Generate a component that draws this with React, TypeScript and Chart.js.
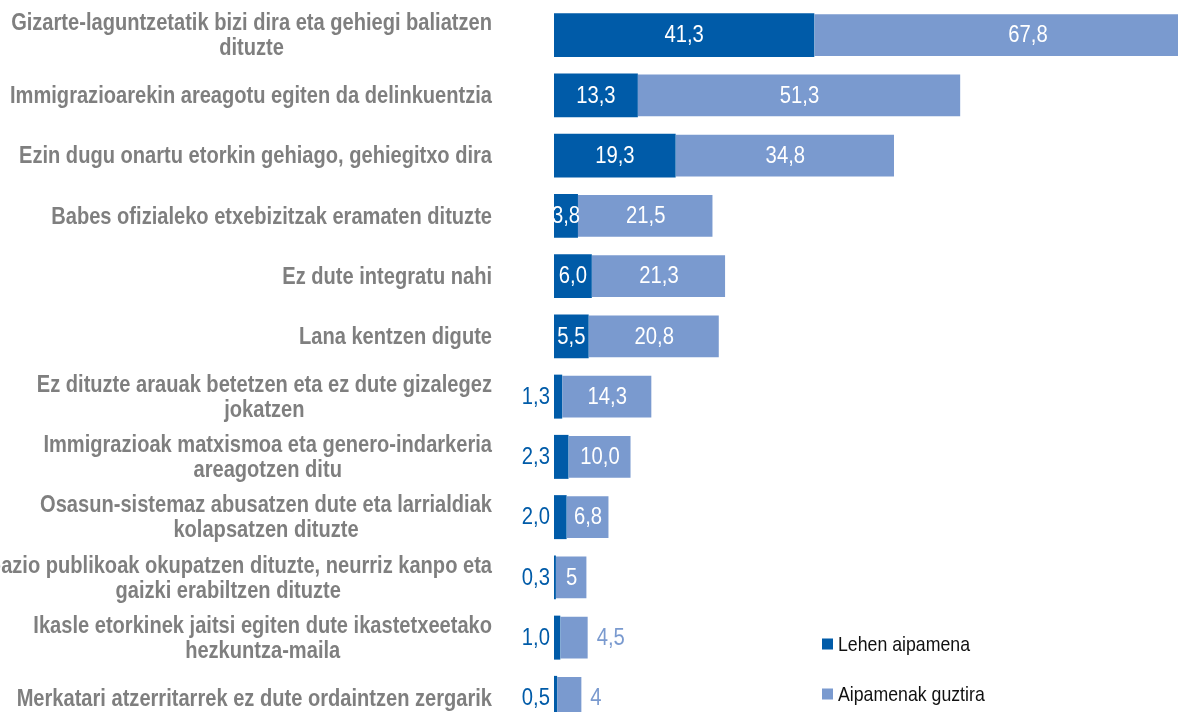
import React, { useEffect, useRef } from "react";
import { Chart, registerables } from "chart.js";

Chart.register(...registerables);

const categories: string[][] = [
  ["Gizarte-laguntzetatik bizi dira eta gehiegi baliatzen", "dituzte"],
  ["Immigrazioarekin areagotu egiten da delinkuentzia"],
  ["Ezin dugu onartu etorkin gehiago, gehiegitxo dira"],
  ["Babes ofizialeko etxebizitzak eramaten dituzte"],
  ["Ez dute integratu nahi"],
  ["Lana kentzen digute"],
  ["Ez dituzte arauak betetzen eta ez dute gizalegez", "jokatzen"],
  ["Immigrazioak matxismoa eta genero-indarkeria", "areagotzen ditu"],
  ["Osasun-sistemaz abusatzen dute eta larrialdiak", "kolapsatzen dituzte"],
  ["Espazio publikoak okupatzen dituzte, neurriz kanpo eta", "gaizki erabiltzen dituzte"],
  ["Ikasle etorkinek jaitsi egiten dute ikastetxeetako", "hezkuntza-maila"],
  ["Merkatari atzerritarrek ez dute ordaintzen zergarik"],
];

const firstMention = [41.3, 13.3, 19.3, 3.8, 6.0, 5.5, 1.3, 2.3, 2.0, 0.3, 1.0, 0.5];
const totalMentions = [67.8, 51.3, 34.8, 21.5, 21.3, 20.8, 14.3, 10.0, 6.8, 5, 4.5, 4];
const firstLabels = ["41,3", "13,3", "19,3", "3,8", "6,0", "5,5", "1,3", "2,3", "2,0", "0,3", "1,0", "0,5"];
const totalLabels = ["67,8", "51,3", "34,8", "21,5", "21,3", "20,8", "14,3", "10,0", "6,8", "5", "4,5", "4"];
const seriesNames = ["Lehen aipamena", "Aipamenak guztira"];

const DARK = "#005BA8";
const LIGHT = "#7A9ACF";
const GREY = "#7F7F7F";
const FONT = '"Liberation Sans", Arial, sans-serif';

function drawNarrow(
  ctx: CanvasRenderingContext2D,
  text: string,
  x: number,
  y: number,
  align: CanvasTextAlign,
  sx: number
) {
  ctx.save();
  ctx.translate(x, y);
  ctx.scale(sx, 1);
  ctx.textAlign = align;
  ctx.fillText(text, 0, 0);
  ctx.restore();
}

export default function App() {
  const ref = useRef<HTMLCanvasElement | null>(null);

  useEffect(() => {
    document.body.style.margin = "0";
    document.documentElement.style.overflow = "hidden";
    document.body.style.overflow = "hidden";
    const canvas = ref.current;
    if (!canvas) return;

    const VALUE_FONT = `23px ${FONT}`;
    const VALUE_SX = 0.88;
    const CAT_FONT = `bold 24px ${FONT}`;
    const LEG_FONT = `21px ${FONT}`;

    const labelsPlugin = {
      id: "customLabels",
      afterDatasetsDraw(chart: any) {
        const ctx = chart.ctx as CanvasRenderingContext2D;
        const area = chart.chartArea;
        ctx.save();
        ctx.textBaseline = "middle";
        ctx.font = VALUE_FONT;
        const m0 = chart.getDatasetMeta(0);
        const m1 = chart.getDatasetMeta(1);
        m0.data.forEach((bar: any, i: number) => {
          const v = firstMention[i];
          if (v >= 3) {
            ctx.save();
            ctx.beginPath();
            ctx.rect(area.left, area.top, area.right - area.left, area.bottom - area.top);
            ctx.clip();
            ctx.fillStyle = "#ffffff";
            drawNarrow(ctx, firstLabels[i], (bar.base + bar.x) / 2, bar.y + 1, "center", VALUE_SX);
            ctx.restore();
          } else {
            ctx.fillStyle = DARK;
            drawNarrow(ctx, firstLabels[i], bar.base - 4, bar.y + 1, "right", VALUE_SX);
          }
        });
        m1.data.forEach((bar: any, i: number) => {
          const v = totalMentions[i];
          if (v >= 5) {
            ctx.fillStyle = "#ffffff";
            drawNarrow(ctx, totalLabels[i], (bar.base + bar.x) / 2, bar.y + 1, "center", VALUE_SX);
          } else {
            ctx.fillStyle = LIGHT;
            drawNarrow(ctx, totalLabels[i], bar.x + 8, bar.y + 1, "left", VALUE_SX);
          }
        });
        ctx.restore();
      },
      afterDraw(chart: any) {
        const ctx = chart.ctx as CanvasRenderingContext2D;
        const yScale = chart.scales.y;
        ctx.save();
        ctx.textBaseline = "middle";
        ctx.fillStyle = GREY;
        ctx.font = CAT_FONT;
        // condensed look: calibrate horizontal squeeze on a reference line
        const catSx = 482 / ctx.measureText(categories[1][0]).width;
        const rightEdge = 492;
        const lineH = 25;
        categories.forEach((lines, i) => {
          const cy = yScale.getPixelForValue(i);
          const widths = lines.map((l) => ctx.measureText(l).width * catSx);
          const blockW = Math.max(...widths);
          const cx = rightEdge - blockW / 2;
          lines.forEach((l, k) => {
            const y = cy + (k - (lines.length - 1) / 2) * lineH + 1;
            drawNarrow(ctx, l, cx, y, "center", catSx);
          });
        });
        // legend
        const legendItems = [
          { name: seriesNames[0], color: DARK, y: 644 },
          { name: seriesNames[1], color: LIGHT, y: 694 },
        ];
        ctx.font = LEG_FONT;
        const legSx = 132 / ctx.measureText(seriesNames[0]).width;
        legendItems.forEach((it) => {
          ctx.fillStyle = it.color;
          ctx.fillRect(822, it.y - 5.5, 11, 11);
          ctx.fillStyle = "#111111";
          drawNarrow(ctx, it.name, 838, it.y + 1, "left", legSx);
        });
        ctx.restore();
      },
    };

    const chart = new Chart(canvas, {
      type: "bar",
      data: {
        labels: categories.map((c) => c.join(" ")),
        datasets: [
          {
            label: seriesNames[0],
            data: firstMention,
            backgroundColor: DARK,
            borderWidth: 0,
            barPercentage: 0.73,
            categoryPercentage: 1,
          },
          {
            label: seriesNames[1],
            data: totalMentions,
            backgroundColor: LIGHT,
            borderColor: "rgba(255,255,255,0.55)",
            borderWidth: 1,
            barPercentage: 0.73,
            categoryPercentage: 1,
          },
        ],
      },
      options: {
        indexAxis: "y",
        responsive: false,
        animation: false,
        layout: { padding: { left: 554, top: 5, right: 0, bottom: 0 } },
        plugins: { legend: { display: false }, tooltip: { enabled: false } },
        scales: {
          x: { stacked: true, min: 0, max: 99, display: false },
          y: { stacked: true, display: false },
        },
      },
      plugins: [labelsPlugin],
    });
    return () => chart.destroy();
  }, []);

  return (
    <div style={{ width: 1178, height: 728, overflow: "hidden" }}>
      <canvas ref={ref} width={1178} height={728} style={{ display: "block" }} />
    </div>
  );
}
